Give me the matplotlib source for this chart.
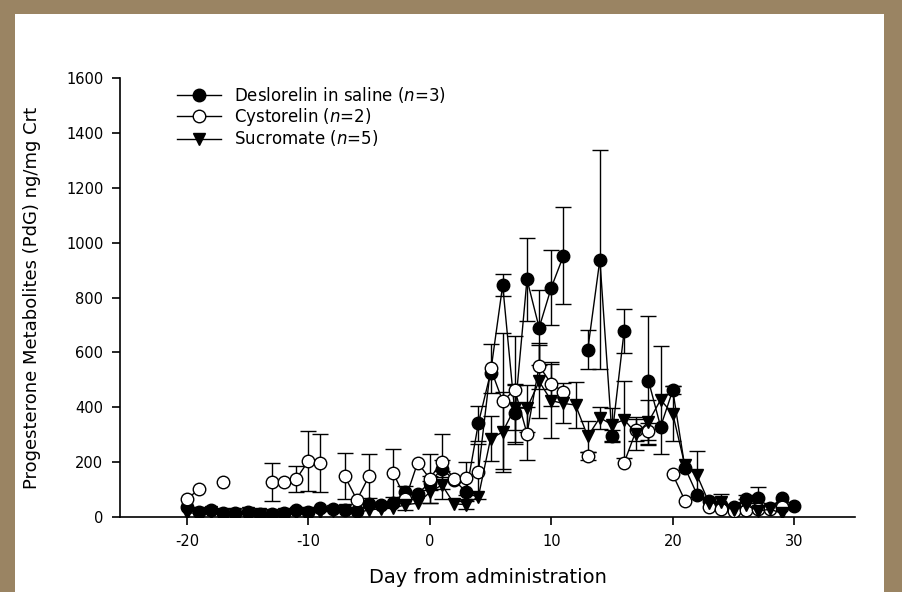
import numpy as np
import matplotlib
matplotlib.use("Agg")
import matplotlib.pyplot as plt
from matplotlib.patches import Rectangle

plt.rcParams['font.family'] = ['DejaVu Sans']
plt.rcParams['mathtext.fontset'] = 'dejavusans'
plt.rcParams['axes.unicode_minus'] = False

nan = np.nan

# days -20 .. 30
days = np.arange(-20, 31)

deslorelin = [38, 20, 25, 14, 14, 19, 12, 10, 16, 24,
              20, 33, 30, 26, 22, 46, 44, 52, 92, 85,
              125, 176, 135, 91, 342, 525, 845, 379, 866, 690,
              836, 952, nan, 609, 938, 296, 679, nan, 497, 329,
              462, 180, 82, 60, 45, 38, 66, 70, 32, 70,
              40]
deslorelin_se = [nan, nan, nan, nan, nan, nan, nan, nan, nan, nan,
                 nan, nan, nan, nan, nan, nan, nan, nan, 20, nan,
                 25, 30, nan, nan, 64, nan, 40, 105, 150, 137,
                 136, 177, nan, 71, 400, 22, 80, nan, 235, nan,
                 15, nan, nan, nan, nan, nan, 15, 41, nan, nan,
                 nan]

cystorelin = [65, 101, nan, 128, nan, nan, nan, 128, 128, 138,
              204, 196, nan, 149, 62, 149, nan, 160, 66, 198,
              140, 202, 137, 142, 165, 542, 422, 464, 304, 551,
              485, 457, nan, 222, nan, nan, 198, 317, 312, nan,
              155, 60, nan, 36, 28, 22, 24, 30, 28, 36,
              nan]
cystorelin_se = [nan, nan, nan, nan, nan, nan, nan, 68, nan, 47,
                 110, 105, nan, 83, nan, 80, nan, 88, nan, nan,
                 90, 100, nan, 60, 100, 90, 248, 197, 97, 83,
                 80, nan, nan, 15, nan, nan, nan, 40, 30, nan,
                 nan, nan, nan, nan, nan, nan, nan, nan, nan, nan,
                 nan]

sucromate = [15, 14, 20, 12, 12, 14, 10, 8, 12, 14,
             14, 18, 22, 24, 15, 26, 30, 32, 45, 50,
             90, 117, 48, 45, 74, 285, 310, 398, 396, 494,
             424, 414, 408, 294, 362, 336, 355, 303, 347, 427,
             376, 188, 152, 50, 55, 24, 45, 22, 28, 14,
             nan]
sucromate_se = [nan, nan, nan, nan, nan, nan, nan, nan, nan, nan,
                nan, nan, nan, nan, nan, nan, nan, nan, 20, nan,
                40, 50, nan, 15, nan, 82, 145, 82, 85, 132,
                135, 73, 84, 57, 40, 60, 140, 60, 80, 197,
                100, nan, 87, nan, 30, nan, 20, nan, nan, nan,
                nan]

labels = ['Deslorelin in saline ($\\it{n}$=3)',
          'Cystorelin ($\\it{n}$=2)',
          'Sucromate ($\\it{n}$=5)']

fig = plt.figure(figsize=(9.03, 5.92), dpi=100, facecolor='#9a8463')
# white slide panel behind the chart
fig.add_artist(Rectangle((15 / 903, 0), (884 - 15) / 903, 1 - 14 / 592,
                         transform=fig.transFigure, facecolor='white',
                         edgecolor='none', zorder=-10))

ax = fig.add_axes([120 / 903, 1 - 517 / 592, (855 - 120) / 903, (517 - 78) / 592])
ax.set_facecolor('none')

series = [
    (deslorelin, deslorelin_se, dict(marker='o', mfc='black')),
    (cystorelin, cystorelin_se, dict(marker='o', mfc='white')),
    (sucromate, sucromate_se, dict(marker='v', mfc='black')),
]

handles = []
for (vals, errs, style), lab in zip(series, labels):
    vals = np.array(vals, dtype=float)
    errs = np.array(errs, dtype=float)
    m = ~np.isnan(errs)
    ax.errorbar(days[m], vals[m], yerr=errs[m], fmt='none', ecolor='black',
                elinewidth=1.0, capsize=5.5, capthick=1.0, zorder=2)
    h, = ax.plot(days, vals, color='black', lw=1.0, ms=9, mec='black',
                 mew=1.0, label=lab, zorder=3, **style)
    handles.append(h)

ax.set_xlim(-25.5, 35)
ax.set_ylim(0, 1600)
ax.set_xticks([-20, -10, 0, 10, 20, 30])
ax.set_yticks(np.arange(0, 1601, 200))
for s in ['top', 'right']:
    ax.spines[s].set_visible(False)
for s in ['left', 'bottom']:
    ax.spines[s].set_linewidth(1.2)
ax.tick_params(direction='out', length=6, width=1.2, labelsize=10.5, pad=6)

ax.set_xlabel('Day from administration', fontsize=14, labelpad=14)
ax.set_ylabel('Progesterone Metabolites (PdG) ng/mg Crt', fontsize=13, labelpad=18)

ax.legend(handles=handles, loc='upper left', bbox_to_anchor=(0.069, 1.0),
          frameon=False, fontsize=12, handlelength=2.6, handletextpad=0.8,
          labelspacing=0.05, borderaxespad=0)

fig.savefig('out.png', dpi=100, facecolor=fig.get_facecolor())
